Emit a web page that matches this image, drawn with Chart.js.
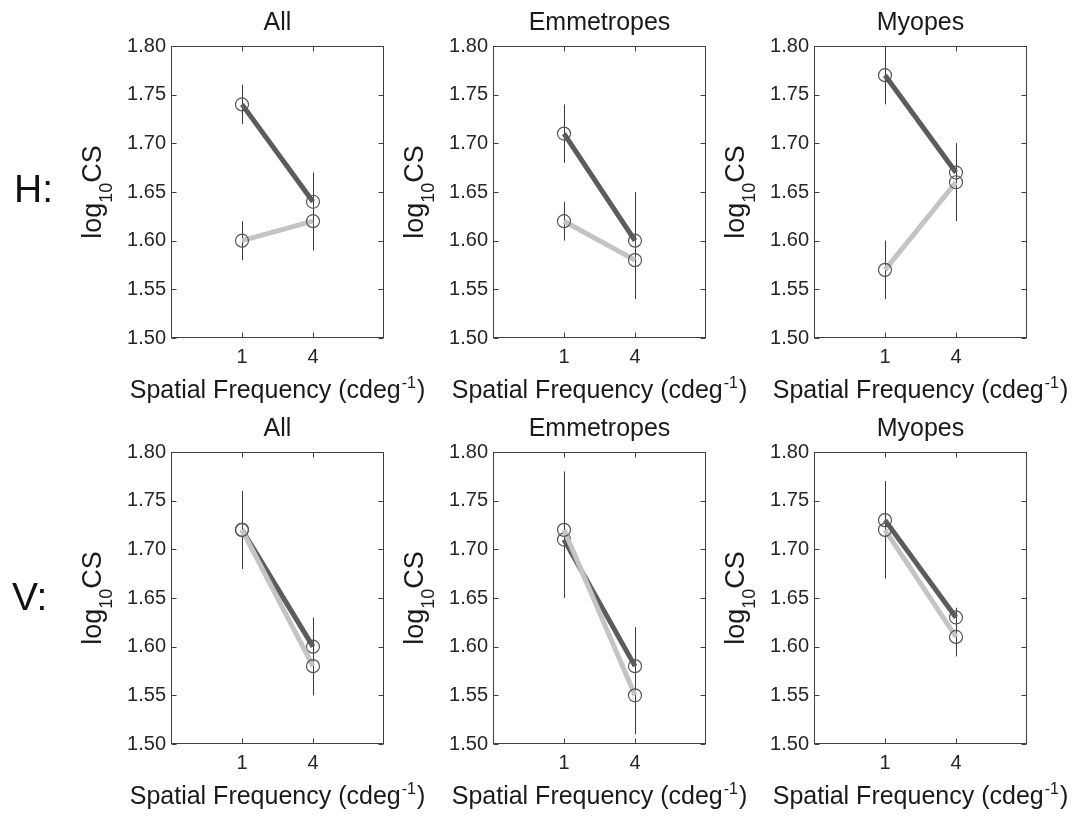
<!DOCTYPE html>
<html>
<head>
<meta charset="utf-8">
<title>log10CS by spatial frequency</title>
<script src="https://cdn.jsdelivr.net/npm/chart.js@4.4.0/dist/chart.umd.min.js"></script>
<style>
  html, body { margin: 0; padding: 0; background: #fff; overflow: hidden; }
  #page { position: relative; width: 1078px; height: 816px; }
  #page canvas { position: absolute; }
</style>
</head>
<body>
<div id="page"></div>
<script>
// categories and ticks
const xLabels = ["1", "4"];
const yTicks = [1.50, 1.55, 1.60, 1.65, 1.70, 1.75, 1.80];
const groups = ["All", "Emmetropes", "Myopes"];
const rowNames = ["H:", "V:"];

// H row: dark series / light series, values and error half-lengths
const hAllDark = [1.74, 1.64];
const hAllDarkErr = [0.02, 0.03];
const hAllLight = [1.60, 1.62];
const hAllLightErr = [0.02, 0.03];

const hEmmDark = [1.71, 1.60];
const hEmmDarkErr = [0.03, 0.05];
const hEmmLight = [1.62, 1.58];
const hEmmLightErr = [0.02, 0.04];

const hMyoDark = [1.77, 1.67];
const hMyoDarkErr = [0.03, 0.03];
const hMyoLight = [1.57, 1.66];
const hMyoLightErr = [0.03, 0.04];

// V row
const vAllDark = [1.72, 1.60];
const vAllDarkErr = [0.04, 0.03];
const vAllLight = [1.72, 1.58];
const vAllLightErr = [0.04, 0.03];

const vEmmDark = [1.71, 1.58];
const vEmmDarkErr = [0.06, 0.04];
const vEmmLight = [1.72, 1.55];
const vEmmLightErr = [0.06, 0.04];

const vMyoDark = [1.73, 1.63];
const vMyoDarkErr = [0.04, 0.01];
const vMyoLight = [1.72, 1.61];
const vMyoLightErr = [0.05, 0.02];

const panels = [
  [hAllDark, hAllDarkErr, hAllLight, hAllLightErr],
  [hEmmDark, hEmmDarkErr, hEmmLight, hEmmLightErr],
  [hMyoDark, hMyoDarkErr, hMyoLight, hMyoLightErr],
  [vAllDark, vAllDarkErr, vAllLight, vAllLightErr],
  [vEmmDark, vEmmDarkErr, vEmmLight, vEmmLightErr],
  [vMyoDark, vMyoDarkErr, vMyoLight, vMyoLightErr]
];

// layout
const PLOT_W = 213, PLOT_H = 292, TOP_PAD = 46, BOTTOM_H = 75, RIGHT_PAD = 60;
const colLeft = [171, 493, 814];
const rowTop = [46, 452];
const FONT = '"Liberation Sans", Arial, sans-serif';
const DARK = "#5c5c5c";
const LIGHT = "#c4c4c4";
const INK = "#262626";

const framePlugin = {
  id: "frame",
  beforeDatasetsDraw(chart) {
    // error bars
    const ctx = chart.ctx, xs = chart.scales.x, ys = chart.scales.y;
    ctx.save();
    ctx.strokeStyle = "#3a3a3a";
    ctx.lineWidth = 1;
    chart.data.datasets.forEach(ds => {
      ds.data.forEach((p, j) => {
        const x = Math.round(xs.getPixelForValue(p.x)) + 0.5;
        ctx.beginPath();
        ctx.moveTo(x, ys.getPixelForValue(p.y + ds.err[j]));
        ctx.lineTo(x, ys.getPixelForValue(p.y - ds.err[j]));
        ctx.stroke();
      });
    });
    ctx.restore();
  },
  afterDraw(chart, args, opts) {
    const ctx = chart.ctx, a = chart.chartArea;
    const xs = chart.scales.x, ys = chart.scales.y;
    const L = Math.round(a.left) + 0.5, R = Math.round(a.right) - 0.5;
    const T = Math.round(a.top) + 0.5, B = Math.round(a.bottom) - 0.5;
    const tk = 5;
    ctx.save();
    ctx.strokeStyle = "#404040";
    ctx.lineWidth = 1;
    ctx.strokeRect(L, T, R - L, B - T);
    ctx.beginPath();
    xs.ticks.forEach(t => {
      const x = Math.round(xs.getPixelForValue(t.value)) + 0.5;
      ctx.moveTo(x, B); ctx.lineTo(x, B - tk);
      ctx.moveTo(x, T); ctx.lineTo(x, T + tk);
    });
    ys.ticks.forEach(t => {
      const y = Math.round(ys.getPixelForValue(t.value)) + 0.5;
      ctx.moveTo(L, y); ctx.lineTo(L + tk, y);
      ctx.moveTo(R, y); ctx.lineTo(R - tk, y);
    });
    ctx.stroke();

    const cx = (a.left + a.right) / 2, cy = (a.top + a.bottom) / 2;
    ctx.fillStyle = "#1a1a1a";
    ctx.textBaseline = "alphabetic";

    // panel title
    ctx.font = "25px " + FONT;
    ctx.textAlign = "center";
    ctx.fillText(opts.title, cx, a.top - 16);

    // x title with superscript
    ctx.textAlign = "left";
    const m1 = "Spatial Frequency (cdeg", sup = "-1", m2 = ")";
    ctx.font = "25px " + FONT;
    const w1 = ctx.measureText(m1).width, w2 = ctx.measureText(m2).width;
    ctx.font = "16px " + FONT;
    const ws = ctx.measureText(sup).width;
    let x0 = cx - (w1 + ws + w2 + 2) / 2;
    const by = a.bottom + 60;
    ctx.font = "25px " + FONT;
    ctx.fillText(m1, x0, by);
    ctx.font = "16px " + FONT;
    ctx.fillText(sup, x0 + w1 + 1, by - 10);
    ctx.font = "25px " + FONT;
    ctx.fillText(m2, x0 + w1 + ws + 2, by);

    // y title with subscript, rotated
    ctx.save();
    ctx.translate(a.left - 70, cy);
    ctx.rotate(-Math.PI / 2);
    ctx.font = "27px " + FONT;
    const p1 = "log", p2 = "10", p3 = "CS";
    const lw1 = ctx.measureText(p1).width, lw3 = ctx.measureText(p3).width;
    ctx.font = "18px " + FONT;
    const lw2 = ctx.measureText(p2).width;
    let sx = -(lw1 + lw2 + lw3) / 2;
    ctx.font = "27px " + FONT;
    ctx.fillText(p1, sx, 0);
    ctx.font = "18px " + FONT;
    ctx.fillText(p2, sx + lw1, 11);
    ctx.font = "27px " + FONT;
    ctx.fillText(p3, sx + lw1 + lw2, 0);
    ctx.restore();

    // row label (H: / V:)
    if (opts.rowLabel) {
      ctx.font = "39px " + FONT;
      ctx.fillStyle = "#111";
      ctx.fillText(opts.rowLabel.text, opts.rowLabel.x, opts.rowLabel.y);
    }
    ctx.restore();
  }
};

const rowLabelPos = [{ x: 14, y: 202 }, { x: 12, y: 610 }];
const page = document.getElementById("page");

panels.forEach((p, i) => {
  const r = Math.floor(i / 3), c = i % 3;
  const canvasLeft = c === 0 ? 0 : colLeft[c] - 100;
  const canvasTop = rowTop[r] - TOP_PAD;
  const yWidth = colLeft[c] - canvasLeft;
  const cv = document.createElement("canvas");
  cv.width = yWidth + PLOT_W + RIGHT_PAD;
  cv.height = TOP_PAD + PLOT_H + BOTTOM_H;
  cv.style.left = canvasLeft + "px";
  cv.style.top = canvasTop + "px";
  page.appendChild(cv);

  const [dark, darkErr, light, lightErr] = p;
  const toPts = arr => arr.map((v, j) => ({ x: j + 1, y: v }));
  const series = (vals, err, color) => ({
    data: toPts(vals),
    err: err,
    borderColor: color,
    borderWidth: 5,
    borderCapStyle: "butt",
    tension: 0,
    pointRadius: 6.5,
    pointBorderWidth: 1.2,
    pointBorderColor: "#555",
    pointBackgroundColor: "rgba(0,0,0,0)",
    fill: false
  });

  new Chart(cv, {
    type: "line",
    data: {
      datasets: [series(light, lightErr, LIGHT), series(dark, darkErr, DARK)]
    },
    options: {
      responsive: false,
      animation: false,
      devicePixelRatio: 1,
      layout: { padding: { top: TOP_PAD, right: RIGHT_PAD, left: 0, bottom: 0 } },
      plugins: {
        legend: { display: false },
        tooltip: { enabled: false },
        frame: {
          title: groups[c],
          rowLabel: c === 0 ? {
            text: rowNames[r],
            x: rowLabelPos[r].x - canvasLeft,
            y: rowLabelPos[r].y - canvasTop
          } : null
        }
      },
      scales: {
        x: {
          type: "linear",
          min: 0,
          max: 3,
          afterBuildTicks: s => { s.ticks = xLabels.map((_, j) => ({ value: j + 1 })); },
          afterFit: s => { s.height = BOTTOM_H; },
          ticks: {
            callback: v => xLabels[v - 1],
            font: { family: FONT, size: 20 },
            color: INK,
            padding: 7,
            autoSkip: false,
            maxRotation: 0
          },
          grid: { display: false, drawTicks: false },
          border: { display: false }
        },
        y: {
          min: 1.5,
          max: 1.8,
          afterBuildTicks: s => { s.ticks = yTicks.map(v => ({ value: v })); },
          afterFit: s => { s.width = yWidth; },
          ticks: {
            callback: v => v.toFixed(2),
            font: { family: FONT, size: 20 },
            color: INK,
            padding: 5,
            autoSkip: false
          },
          grid: { display: false, drawTicks: false },
          border: { display: false }
        }
      }
    },
    plugins: [framePlugin]
  });
});
</script>
</body>
</html>
